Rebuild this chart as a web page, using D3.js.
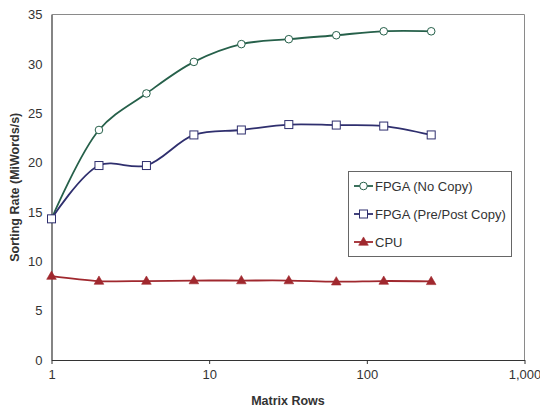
<!DOCTYPE html>
<html>
<head>
<meta charset="utf-8">
<script src="https://cdn.jsdelivr.net/npm/d3@7"></script>
<style>
  html, body { margin: 0; padding: 0; background: #fff; }
  svg { display: block; font-family: "Liberation Sans", Arial, sans-serif; }
</style>
</head>
<body>
<svg id="chart" width="540" height="409"></svg>
<script>
// Matrix row counts (x) and sorting rates for each implementation
const matrixRows = [1, 2, 4, 8, 16, 32, 64, 128, 256];
const fpgaNoCopy = [14.3, 23.3, 27.0, 30.2, 32.0, 32.5, 32.9, 33.3, 33.3];
const fpgaPrePost = [14.3, 19.7, 19.7, 22.8, 23.3, 23.85, 23.8, 23.7, 22.8];
const cpu = [8.5, 8.0, 8.0, 8.05, 8.05, 8.05, 7.93, 8.0, 7.97];

const xTicks = [1, 10, 100, 1000];
const yTicks = [0, 5, 10, 15, 20, 25, 30, 35];

const seriesNames = ["FPGA (No Copy)", "FPGA (Pre/Post Copy)", "CPU"];
const seriesColors = ["#26604a", "#2f2f6e", "#a0282e"];
const seriesMarkers = ["circle", "square", "triangle"];
const seriesValues = [fpgaNoCopy, fpgaPrePost, cpu];

const svg = d3.select("#chart");
const m = { left: 51.5, right: 524.5, top: 14.5, bottom: 360 };

const x = d3.scaleLog().domain([1, 1000]).range([m.left, m.right]);
const y = d3.scaleLinear().domain([0, 35]).range([m.bottom, m.top]);

// Plot frame (top and right edges)
svg.append("path")
  .attr("d", `M${m.left},${m.top}H${m.right}V${m.bottom}`)
  .attr("fill", "none").attr("stroke", "#8a8a8a").attr("stroke-width", 1);

// Y axis
const yAxis = svg.append("g").attr("transform", `translate(${m.left},0)`)
  .call(d3.axisLeft(y).tickValues(yTicks).tickSize(0).tickPadding(9));
yAxis.select(".domain").attr("stroke", "#333").attr("stroke-width", 1.2);
yAxis.selectAll("text").attr("font-size", 13).attr("fill", "#333");

// X axis
const xAxis = svg.append("g").attr("transform", `translate(0,${m.bottom})`)
  .call(d3.axisBottom(x).tickValues(xTicks).tickSize(4).tickSizeOuter(0).tickPadding(6)
    .tickFormat(d3.format(",")));
xAxis.select(".domain").attr("stroke", "#333").attr("stroke-width", 1.2);
xAxis.selectAll("line").attr("stroke", "#333");
xAxis.selectAll("text").attr("font-size", 13).attr("fill", "#333");

// Axis titles
svg.append("text")
  .attr("x", (m.left + m.right) / 2).attr("y", 405)
  .attr("text-anchor", "middle").attr("font-size", 12.5).attr("font-weight", "bold").attr("fill", "#333")
  .text("Matrix Rows");
svg.append("text")
  .attr("transform", `translate(19,${(m.top + m.bottom) / 2}) rotate(-90)`)
  .attr("text-anchor", "middle").attr("font-size", 12.5).attr("font-weight", "bold").attr("fill", "#333")
  .text("Sorting Rate (MiWords/s)");

function drawMarker(g, type, color, cx, cy) {
  if (type === "circle") {
    g.append("circle").attr("cx", cx).attr("cy", cy).attr("r", 3.8)
      .attr("fill", "#fff").attr("stroke", color).attr("stroke-width", 1);
  } else if (type === "square") {
    g.append("rect").attr("x", cx - 4).attr("y", cy - 4).attr("width", 8).attr("height", 8)
      .attr("fill", "#fff").attr("stroke", color).attr("stroke-width", 1);
  } else {
    g.append("path")
      .attr("d", d3.symbol().type(d3.symbolTriangle).size(40)())
      .attr("transform", `translate(${cx},${cy + 0.5})`)
      .attr("fill", color).attr("stroke", color).attr("stroke-width", 0.6);
  }
}

const line = d3.line()
  .x(d => x(d[0])).y(d => y(d[1]))
  .curve(d3.curveCatmullRom.alpha(0.5));

seriesValues.forEach((vals, i) => {
  const pts = matrixRows.map((r, j) => [r, vals[j]]);
  const g = svg.append("g");
  g.append("path").attr("d", line(pts))
    .attr("fill", "none").attr("stroke", seriesColors[i]).attr("stroke-width", 1.8);
  pts.forEach(p => drawMarker(g, seriesMarkers[i], seriesColors[i], x(p[0]), y(p[1])));
});

// Legend
const lg = svg.append("g");
lg.append("rect").attr("x", 348.5).attr("y", 171.5).attr("width", 163).attr("height", 85)
  .attr("fill", "#fff").attr("stroke", "#666").attr("stroke-width", 1);
seriesNames.forEach((name, i) => {
  const ly = 186 + i * 28;
  lg.append("line").attr("x1", 354).attr("x2", 373).attr("y1", ly).attr("y2", ly)
    .attr("stroke", seriesColors[i]).attr("stroke-width", 1.8);
  drawMarker(lg, seriesMarkers[i], seriesColors[i], 363.5, ly);
  lg.append("text").attr("x", 375).attr("y", ly).attr("dy", "0.36em")
    .attr("font-size", 13).attr("fill", "#333").text(name);
});
</script>
</body>
</html>
